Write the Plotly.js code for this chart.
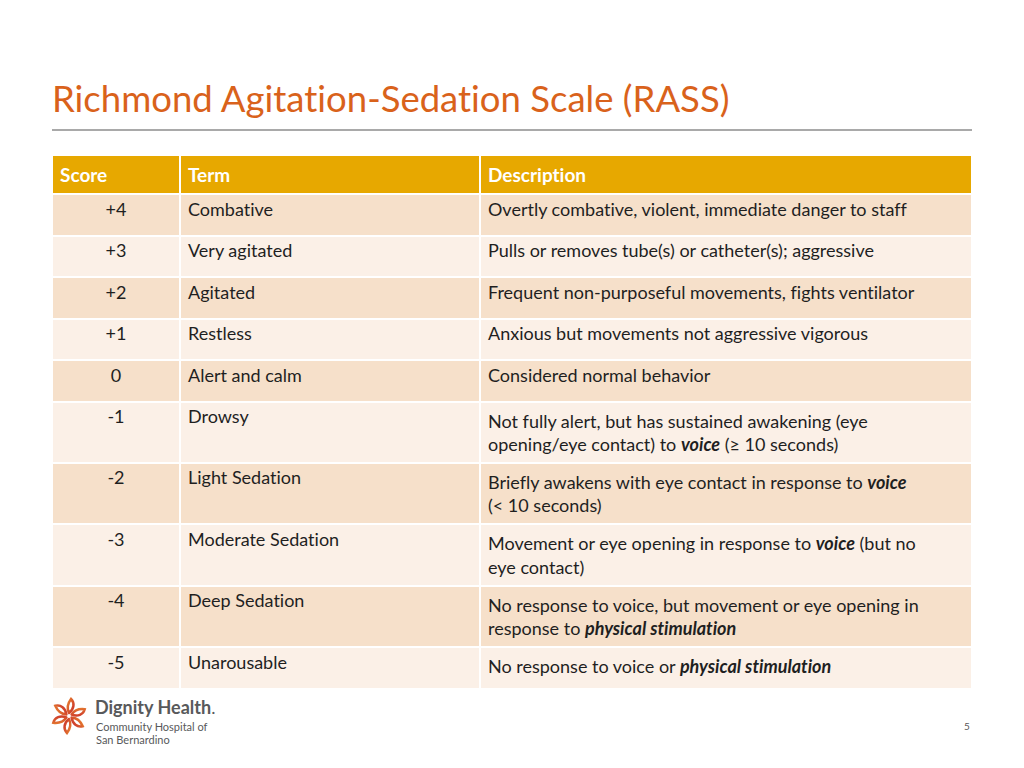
<!DOCTYPE html>
<html><head><meta charset="utf-8">
<script src="https://cdn.plot.ly/plotly-3.0.1.min.js"></script>
<style>html,body{margin:0;padding:0;background:#fff}#chart{width:1024px;height:768px}
svg text{font-variant-ligatures:none !important;font-feature-settings:"liga" 0,"clig" 0 !important;}</style>
</head><body><div id="chart"></div>
<script>
const headers = ["Score", "Term", "Description"];
const scores = ["+4", "+3", "+2", "+1", "0", "-1", "-2", "-3", "-4", "-5"];
const terms = ["Combative", "Very agitated", "Agitated", "Restless", "Alert and calm", "Drowsy",
  "Light Sedation", "Moderate Sedation", "Deep Sedation", "Unarousable"];
const descriptions = [
  "Overtly combative, violent, immediate danger to staff",
  "Pulls or removes tube(s) or catheter(s); aggressive",
  "Frequent non-purposeful movements, fights ventilator",
  "Anxious but movements not aggressive vigorous",
  "Considered normal behavior",
  "Not fully alert, but has sustained awakening (eye<br>opening/eye contact) to <b><i>voice</i></b> (≥ 10 seconds)",
  "Briefly awakens with eye contact in response to <b><i>voice</i></b><br>(< 10 seconds)",
  "Movement or eye opening in response to <b><i>voice</i></b> (but no<br>eye contact)",
  "No response to voice, but movement or eye opening in<br>response to <b><i>physical stimulation</i></b>",
  "No response to voice or <b><i>physical stimulation</i></b>"
];
const titleText = "Richmond Agitation-Sedation Scale (RASS)";
const pageNumber = "5";

const FONT = "Lato, 'Open Sans', sans-serif";
const rowFill = scores.map((s, i) => i % 2 === 0 ? "#F6E0CA" : "#FBF0E7");

const table = {
  type: "table",
  domain: {x: [52/1024, 972/1024], y: [1 - 700/768, 1 - 155/768]},
  columnwidth: [128, 300, 492],
  header: {
    values: headers.map(h => "<b>" + h + "</b>"),
    align: "left",
    height: 38,
    fill: {color: "#E7A800"},
    line: {color: "#FFFFFF", width: 2},
    font: {family: FONT, size: 19, color: "#FFFFFF"}
  },
  cells: {
    values: [scores, terms, descriptions],
    align: ["center", "left", "left"],
    height: 41.5,
    fill: {color: [rowFill, rowFill, rowFill]},
    line: {color: "#FFFFFF", width: 2},
    font: {family: FONT, size: 18, color: "#1F1F1F"}
  }
};

const flowerSvg = `<svg xmlns="http://www.w3.org/2000/svg" width="80" height="80" viewBox="-40 -40 80 80">
<defs><linearGradient id="g" x1="0" y1="0" x2="1" y2="1"><stop offset="0" stop-color="#E8822F"/><stop offset="1" stop-color="#C9302C"/></linearGradient></defs>
<g fill="none" stroke="url(#g)" stroke-width="5" stroke-linecap="round">
${[0,60,120,180,240,300].map(a => `<path transform="rotate(${a})" d="M0,-6 C10,-14 12,-26 4,-34 C-2,-26 -6,-18 0,-6"/>`).join("")}
</g></svg>`;

const layout = {
  width: 1024, height: 768,
  margin: {l: 0, r: 0, t: 0, b: 0},
  paper_bgcolor: "#FFFFFF",
  showlegend: false,
  shapes: [
    {type: "line", xref: "paper", yref: "paper", x0: 52/1024, x1: 972/1024, y0: 1 - 130/768, y1: 1 - 130/768,
     line: {color: "#8C8C8C", width: 1.3}}
  ],
  images: [
    {source: "data:image/svg+xml;charset=utf-8," + encodeURIComponent(flowerSvg),
     xref: "paper", yref: "paper", x: 49/1024, y: 1 - 696/768, sizex: 40/1024, sizey: 40/768,
     xanchor: "left", yanchor: "top", sizing: "contain", layer: "above"}
  ],
  annotations: [
    {text: titleText, xref: "paper", yref: "paper", x: 50/1024, y: 1 - 98/768, xanchor: "left", yanchor: "middle",
     showarrow: false, font: {family: FONT, size: 36.5, color: "#D9621B"}},
    {text: "<b>Dignity Health</b>.", xref: "paper", yref: "paper", x: 93/1024, y: 1 - 707/768, xanchor: "left", yanchor: "middle",
     showarrow: false, font: {family: FONT, size: 18, color: "#58595B"}},
    {text: "Community Hospital of", xref: "paper", yref: "paper", x: 94/1024, y: 1 - 726/768, xanchor: "left", yanchor: "middle",
     showarrow: false, font: {family: FONT, size: 11, color: "#58595B"}},
    {text: "San Bernardino", xref: "paper", yref: "paper", x: 94/1024, y: 1 - 739/768, xanchor: "left", yanchor: "middle",
     showarrow: false, font: {family: FONT, size: 11, color: "#58595B"}},
    {text: pageNumber, xref: "paper", yref: "paper", x: 972/1024, y: 1 - 726/768, xanchor: "right", yanchor: "middle",
     showarrow: false, font: {family: FONT, size: 10, color: "#595959"}}
  ]
};

Plotly.newPlot("chart", [table], layout, {displayModeBar: false, staticPlot: true});
</script></body></html>
